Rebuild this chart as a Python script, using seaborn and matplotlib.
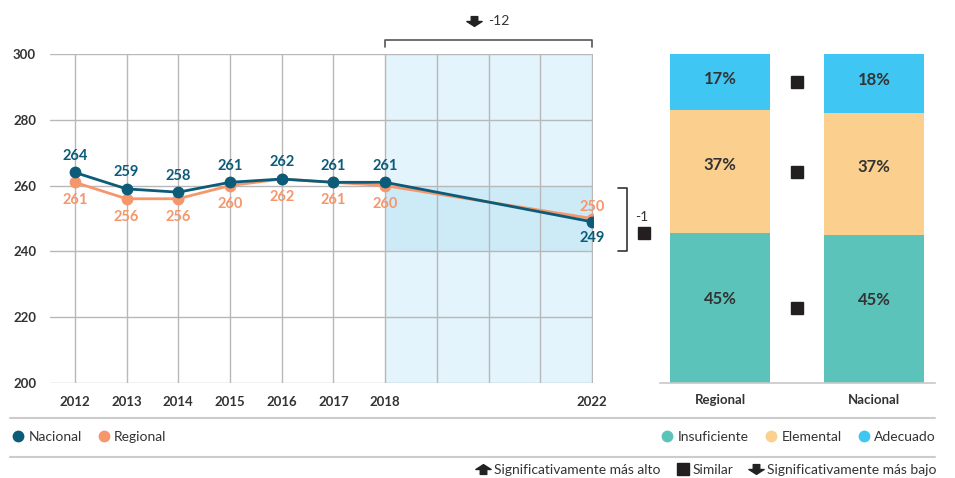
import matplotlib
matplotlib.use("Agg")
import pandas as pd
import matplotlib.pyplot as plt
import seaborn as sns
from matplotlib.lines import Line2D
from matplotlib.path import Path

sns.set_theme(style='white')
plt.rcParams['font.family'] = ['Lato', 'DejaVu Sans']

# datos
years = [2012, 2013, 2014, 2015, 2016, 2017, 2018, 2022]
nacional = [264, 259, 258, 261, 262, 261, 261, 249]
regional = [261, 256, 256, 260, 262, 261, 260, 250]
grid_years = list(range(2012, 2023))
tick_years = [2012, 2013, 2014, 2015, 2016, 2017, 2018, 2022]
y_ticks = [200, 220, 240, 260, 280, 300]

bar_groups = ['Regional', 'Nacional']
levels = ['Insuficiente', 'Elemental', 'Adecuado']
pct_regional = [45, 37, 17]
pct_nacional = [45, 37, 18]

NAC = '#0b5b79'
REG = '#f6966b'
LEVEL_COLORS = ['#5cc3bb', '#fbd08f', '#40c6f2']
TXT = '#333333'
GRID = '#b8b8b8'

W, H = 955, 478


def fx(px):
    return px / W


def fy(py):
    return 1 - py / H


# flechas: vástago angosto + punta ancha
UP = Path([(-0.3, -0.45), (0.3, -0.45), (0.3, 0.0), (0.7, 0.0), (0, 0.45),
           (-0.7, 0.0), (-0.3, 0.0), (-0.3, -0.45)], closed=True)
DOWN = Path([(x, -y) for x, y in UP.vertices], closed=True)

fig = plt.figure(figsize=(W / 100, H / 100), dpi=100)
ax = fig.add_axes([fx(50), fy(383), fx(593) - fx(50), fy(54) - fy(383)])
axb = fig.add_axes([fx(660), fy(383), fx(935) - fx(660), fy(54) - fy(383)])

# ---- serie temporal ----
df = pd.DataFrame({
    'año': years * 2,
    'puntaje': regional + nacional,
    'serie': ['Regional'] * len(years) + ['Nacional'] * len(years),
})

ax.axvspan(years[-2], years[-1], color='#e3f4fc', zorder=0.1, lw=0)
ax.fill_between([years[-2], years[-1]], 240, 260, color='#cdeaf7', zorder=0.2, lw=0)

sns.lineplot(data=df, x='año', y='puntaje', hue='serie', hue_order=['Regional', 'Nacional'],
             palette={'Regional': REG, 'Nacional': NAC}, marker='o', markersize=8.5,
             markeredgewidth=0, linewidth=2, legend=False, ax=ax, zorder=3)

for yr, n, r in zip(years, nacional, regional):
    n_up = n >= r
    ax.annotate(str(n), (yr, n), xytext=(0, 12 if n_up else -12), textcoords='offset points',
                ha='center', va='center', fontsize=10.5, fontweight='bold', color=NAC, zorder=4)
    ax.annotate(str(r), (yr, r), xytext=(0, -13 if n_up else 8), textcoords='offset points',
                ha='center', va='center', fontsize=10.5, fontweight='bold', color=REG, zorder=4)

ax.set_xlim(2011.52, 2022.02)
ax.set_ylim(200, 300)
ax.set_xticks(grid_years)
ax.set_xticklabels([str(y) if y in tick_years else '' for y in grid_years])
ax.set_yticks(y_ticks)
ax.set_axisbelow(True)
ax.grid(True, color=GRID, linewidth=1)
ax.tick_params(axis='x', length=8, width=1, color=GRID, pad=1, labelsize=9.5, labelcolor=TXT)
ax.tick_params(axis='y', length=0, pad=10, labelsize=9.5, labelcolor=TXT)
for lab in ax.get_xticklabels() + ax.get_yticklabels():
    lab.set_fontweight('bold')
ax.set_xlabel('')
ax.set_ylabel('')
for s in ax.spines.values():
    s.set_visible(False)

# llave superior: cambio 2018 -> 2022
x0, x1 = years[-2], years[-1]
ax.plot([x0, x0, x1, x1], [302.1, 304.3, 304.3, 302.1], color='#555555', lw=1.2, clip_on=False)
mid = (x0 + x1) / 2
ax.plot([mid - 0.28], [309.9], marker=DOWN, markersize=11, color='#222222', clip_on=False, ls='')
ax.annotate(f'{nacional[-1] - nacional[-2]}', (mid, 309.9), ha='left', va='center',
            fontsize=10, color=TXT, annotation_clip=False)

# llave derecha: diferencia nacional - regional 2022
bx = 2022.68
ax.plot([2022.5, bx, bx, 2022.5], [259.3, 259.3, 240.2, 240.2], color='#333333', lw=1.2, clip_on=False)
ax.annotate(f'{nacional[-1] - regional[-1]}', (2022.97, 250.6), ha='center', va='center',
            fontsize=10, color=TXT, annotation_clip=False)
ax.plot([2023.0], [245.6], marker='s', markersize=8.5, color='#231f20', clip_on=False, ls='')

# ---- barras apiladas ----
shares = {}
for g, vals in zip(bar_groups, [pct_regional, pct_nacional]):
    tot = sum(vals)
    shares[g] = [v / tot * 100 for v in vals]

for i in reversed(range(len(levels))):
    cum = [sum(shares[g][:i + 1]) for g in bar_groups]
    sns.barplot(x=bar_groups, y=cum, color=LEVEL_COLORS[i], width=0.65, saturation=1,
                linewidth=0, ax=axb, zorder=2)

for gi, (g, vals) in enumerate(zip(bar_groups, [pct_regional, pct_nacional])):
    bottom = 0
    for v, s in zip(vals, shares[g]):
        axb.text(gi, bottom + 0.56 * s, f'{v}%', ha='center', va='center', fontsize=12,
                 fontweight='bold', color=TXT, zorder=4)
        bottom += s

# marcadores de comparación entre barras
bottom = 0
for s in shares['Regional']:
    axb.plot([0.5], [bottom + s / 2], marker='s', markersize=8.5, color='#231f20', ls='', zorder=4)
    bottom += s

axb.set_xlim(-0.39, 1.396)
axb.set_ylim(0, 100)
axb.set_yticks([])
axb.set_xlabel('')
axb.set_ylabel('')
axb.tick_params(axis='x', length=0, pad=8, labelsize=9.5, labelcolor=TXT)
for lab in axb.get_xticklabels():
    lab.set_fontweight('bold')
for k, s in axb.spines.items():
    s.set_visible(k == 'bottom')
axb.spines['bottom'].set_color('#c8c8c8')
axb.spines['bottom'].set_linewidth(1.2)

# ---- separadores y leyendas ----
for py in [418, 457]:
    fig.add_artist(Line2D([fx(10), fx(935)], [fy(py), fy(py)], color='#cccccc', lw=1.5))

leg_kw = dict(frameon=False, borderaxespad=0, borderpad=0, fontsize=10, labelcolor=TXT,
              handletextpad=0.25, handlelength=1.0, columnspacing=1.1)

h_series = [Line2D([], [], marker='o', ls='', color=NAC, markersize=8.5, markeredgewidth=0),
            Line2D([], [], marker='o', ls='', color=REG, markersize=8.5, markeredgewidth=0)]
fig.legend(h_series, ['Nacional', 'Regional'], loc='center left', ncol=2,
           bbox_to_anchor=(fx(11), fy(437)), **leg_kw)

h_levels = [Line2D([], [], marker='o', ls='', color=c, markersize=8.5, markeredgewidth=0)
            for c in LEVEL_COLORS]
fig.legend(h_levels, levels, loc='center right', ncol=3,
           bbox_to_anchor=(fx(936), fy(437)), **leg_kw)

h_sig = [Line2D([], [], marker=UP, ls='', color='#222222', markersize=11),
         Line2D([], [], marker='s', ls='', color='#231f20', markersize=8.5),
         Line2D([], [], marker=DOWN, ls='', color='#222222', markersize=11)]
fig.legend(h_sig, ['Significativamente más alto', 'Similar', 'Significativamente más bajo'],
           loc='center right', ncol=3, bbox_to_anchor=(fx(936), fy(470)), **leg_kw)

fig.savefig('out.png', dpi=100)
